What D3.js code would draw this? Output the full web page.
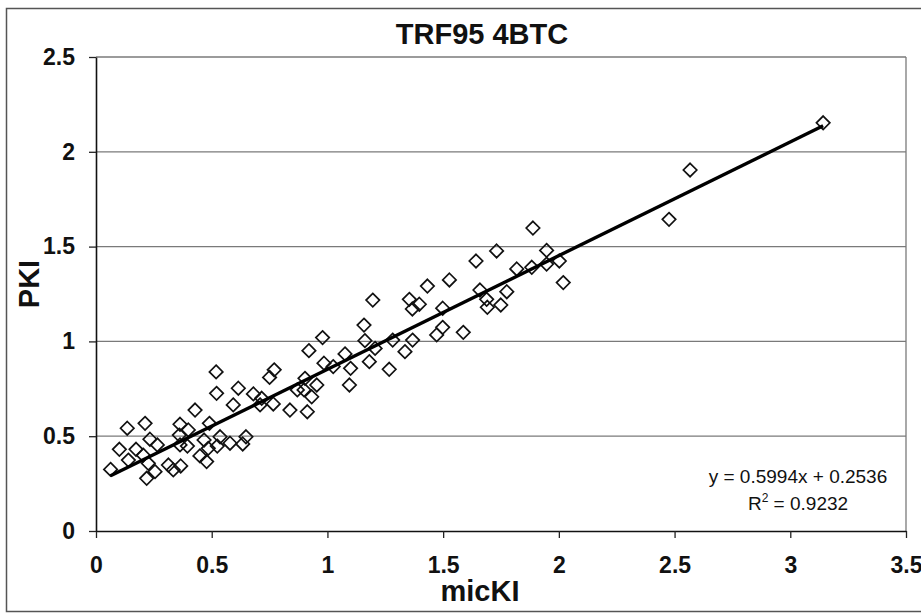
<!DOCTYPE html>
<html>
<head>
<meta charset="utf-8">
<script src="https://cdn.jsdelivr.net/npm/d3@7"></script>
<style>
  html, body { margin: 0; padding: 0; background: #fff; }
  svg { display: block; font-family: "Liberation Sans", Arial, sans-serif; }
</style>
</head>
<body>
<svg id="chart" width="921" height="615"></svg>
<script>
const titleText = "TRF95 4BTC";
const xLabel = "micKI";
const yLabel = "PKI";
const xTicks = [0, 0.5, 1, 1.5, 2, 2.5, 3, 3.5];
const yTicks = [0, 0.5, 1, 1.5, 2, 2.5];
const slope = 0.5994;
const intercept = 0.2536;
const r2 = "0.9232";

const micKI = [0.063,0.101,0.135,0.140,0.173,0.212,0.233,0.265,0.204,0.226,0.219,0.255,0.313,0.334,0.366,0.363,0.360,0.399,0.395,0.363,0.428,0.449,0.478,0.490,0.485,0.467,0.521,0.524,0.536,0.579,0.593,0.615,0.634,0.648,0.680,0.709,0.716,0.766,0.750,0.770,0.519,0.838,0.870,0.913,0.932,0.899,0.903,0.954,0.920,0.979,0.985,1.025,1.076,1.100,1.095,1.158,1.162,1.181,1.206,1.196,1.267,1.282,1.335,1.368,1.354,1.397,1.367,1.432,1.472,1.498,1.498,1.527,1.587,1.642,1.659,1.688,1.691,1.731,1.749,1.775,1.818,1.883,1.888,1.947,1.947,2.002,2.019,2.476,2.567,3.142];
const PKI = [0.325,0.431,0.542,0.374,0.431,0.568,0.484,0.454,0.400,0.357,0.278,0.313,0.348,0.322,0.343,0.563,0.506,0.533,0.448,0.454,0.638,0.396,0.366,0.568,0.436,0.480,0.726,0.448,0.497,0.463,0.665,0.753,0.459,0.497,0.723,0.665,0.700,0.670,0.810,0.850,0.839,0.638,0.744,0.629,0.708,0.744,0.805,0.770,0.951,1.020,0.885,0.867,0.934,0.858,0.770,1.086,1.004,0.893,0.963,1.218,0.853,1.007,0.946,1.007,1.222,1.196,1.171,1.292,1.034,1.074,1.175,1.324,1.048,1.424,1.271,1.222,1.180,1.477,1.192,1.262,1.382,1.391,1.598,1.480,1.408,1.424,1.310,1.644,1.904,2.153];

const svg = d3.select("#chart");
const W = 921, H = 615;
const plot = { left: 96, right: 906, top: 57, bottom: 531 };

svg.append("rect").attr("width", W).attr("height", H).attr("fill", "#fff");
// outer chart frame
svg.append("rect")
  .attr("x", 6.5).attr("y", 8.5).attr("width", 930).attr("height", 603)
  .attr("fill", "none").attr("stroke", "#555").attr("stroke-width", 1.5);

const x = d3.scaleLinear().domain([0, 3.5]).range([plot.left, plot.right]);
const y = d3.scaleLinear().domain([0, 2.5]).range([plot.bottom, plot.top]);

// gridlines
svg.append("g").selectAll("line")
  .data(yTicks.filter(d => d > 0))
  .join("line")
  .attr("x1", plot.left).attr("x2", plot.right)
  .attr("y1", d => y(d)).attr("y2", d => y(d))
  .attr("stroke", "#7a7a7a").attr("stroke-width", 1.3);

// right border
svg.append("line")
  .attr("x1", plot.right).attr("x2", plot.right)
  .attr("y1", plot.top).attr("y2", plot.bottom)
  .attr("stroke", "#7a7a7a").attr("stroke-width", 1.3);

// axes
const xAxis = svg.append("g")
  .attr("transform", `translate(0,${plot.bottom})`)
  .call(d3.axisBottom(x).tickValues(xTicks).tickSize(7).tickSizeOuter(0).tickPadding(19)
        .tickFormat(d => d3.format("")(d)));
const yAxis = svg.append("g")
  .attr("transform", `translate(${plot.left},0)`)
  .call(d3.axisLeft(y).tickValues(yTicks).tickSize(7).tickSizeOuter(0).tickPadding(14)
        .tickFormat(d => d3.format("")(d)));

[xAxis, yAxis].forEach(g => {
  g.select(".domain").attr("stroke", "#111").attr("stroke-width", 1.6);
  g.selectAll(".tick line").attr("stroke", "#222").attr("stroke-width", 1.3);
  g.selectAll(".tick text")
    .attr("fill", "#111")
    .style("font-family", "'Liberation Sans', Arial, sans-serif")
    .style("font-size", "23px")
    .style("font-weight", "bold");
});
xAxis.selectAll(".tick text").attr("dy", "0.71em");

// points (diamonds)
const sym = d3.symbol().type(d3.symbolDiamond2).size(115);
svg.append("g").selectAll("path")
  .data(micKI.map((v, i) => [v, PKI[i]]))
  .join("path")
  .attr("d", sym)
  .attr("transform", d => `translate(${x(d[0])},${y(d[1])})`)
  .attr("fill", "none")
  .attr("stroke", "#111")
  .attr("stroke-width", 1.7);

// trendline
const xMin = d3.min(micKI), xMax = d3.max(micKI);
svg.append("line")
  .attr("x1", x(xMin)).attr("y1", y(slope * xMin + intercept))
  .attr("x2", x(xMax)).attr("y2", y(slope * xMax + intercept))
  .attr("stroke", "#000").attr("stroke-width", 3.4);

// title
svg.append("text")
  .attr("x", 482).attr("y", 44)
  .attr("text-anchor", "middle")
  .style("font-size", "29px").style("font-weight", "bold").attr("fill", "#111")
  .text(titleText);

// axis titles
svg.append("text")
  .attr("x", 480).attr("y", 601)
  .attr("text-anchor", "middle")
  .style("font-size", "29px").style("font-weight", "bold").attr("fill", "#111")
  .text(xLabel);

svg.append("text")
  .attr("transform", "translate(39,284) rotate(-90)")
  .attr("text-anchor", "middle")
  .style("font-size", "29px").style("font-weight", "bold").attr("fill", "#111")
  .text(yLabel);

// equation
svg.append("text")
  .attr("x", 798).attr("y", 483)
  .attr("text-anchor", "middle")
  .style("font-size", "19px").attr("fill", "#111")
  .text(`y = ${slope}x + ${intercept}`);

const r2t = svg.append("text")
  .attr("x", 798).attr("y", 510)
  .attr("text-anchor", "middle")
  .style("font-size", "19px").attr("fill", "#111");
r2t.append("tspan").text("R");
r2t.append("tspan").attr("dy", -8).style("font-size", "12px").text("2");
r2t.append("tspan").attr("dy", 8).text(` = ${r2}`);
</script>
</body>
</html>
